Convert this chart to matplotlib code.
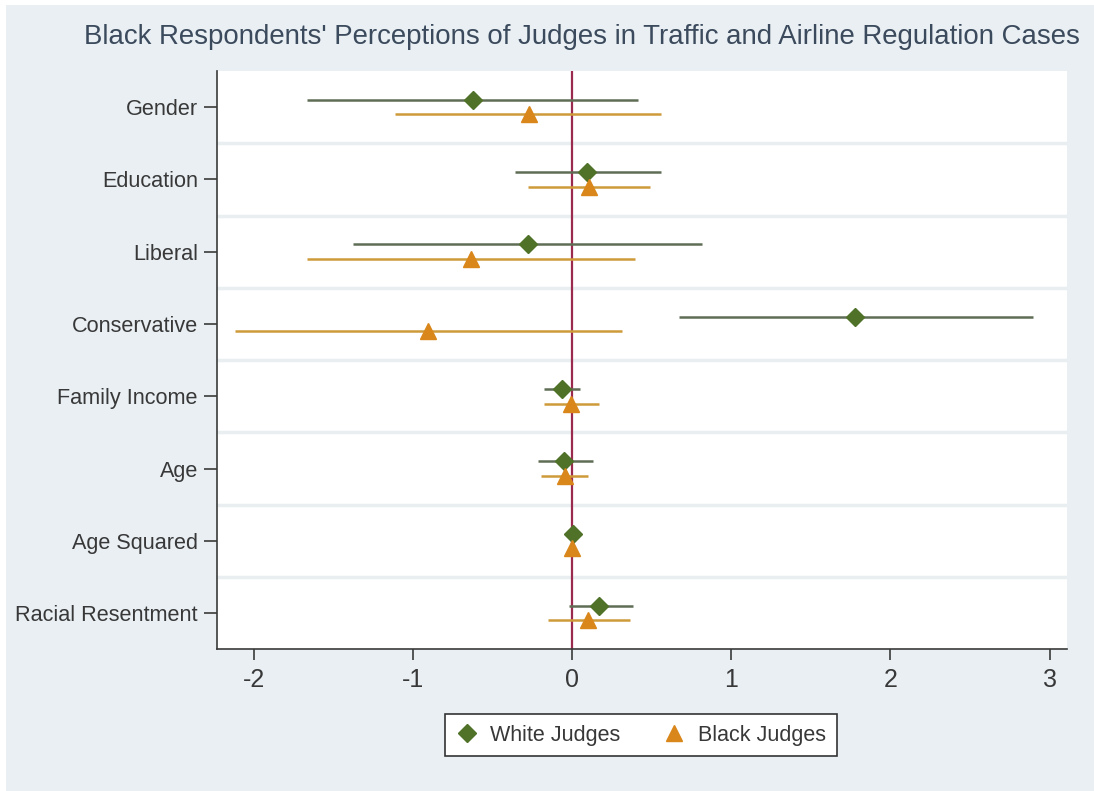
import matplotlib
matplotlib.use("Agg")
import matplotlib.pyplot as plt
from matplotlib.lines import Line2D
from matplotlib.patches import Rectangle

# ---- data ----
categories = ["Gender", "Education", "Liberal", "Conservative", "Family Income",
              "Age", "Age Squared", "Racial Resentment"]
white_est = [-0.624, 0.092, -0.281, 1.778, -0.064, -0.050, 0.002, 0.170]
white_lo = [-1.667, -0.358, -1.380, 0.668, -0.180, -0.217, -0.005, -0.020]
white_hi = [0.413, 0.559, 0.815, 2.894, 0.050, 0.130, 0.005, 0.380]
black_est = [-0.274, 0.103, -0.634, -0.906, -0.006, -0.044, 0.000, 0.100]
black_lo = [-1.112, -0.281, -1.667, -2.117, -0.180, -0.196, -0.005, -0.155]
black_hi = [0.559, 0.490, 0.396, 0.312, 0.170, 0.096, 0.005, 0.365]
xticks = [-2, -1, 0, 1, 2, 3]
title = "Black Respondents' Perceptions of Judges in Traffic and Airline Regulation Cases"
legend_labels = ["White Judges", "Black Judges"]

plt.rcParams['font.family'] = ['Liberation Sans', 'DejaVu Sans']

W, H = 1094, 791
fig = plt.figure(figsize=(W / 100, H / 100), dpi=100, facecolor='white')
fig.patches.append(Rectangle((6 / W, 0), 1 - 6 / W, 1 - 5 / H, transform=fig.transFigure,
                             facecolor='#e9eff3', edgecolor='none', zorder=-10))

ax = fig.add_axes([217 / W, 1 - 649.3 / H, (1067 - 217) / W, (649.3 - 71) / H])
ax.set_facecolor('white')

green_mk = '#4f7228'
green_ln = '#5f6d55'
orange_mk = '#d9861a'
orange_ln = '#cf9a3a'
ref_col = '#9b2a4f'

n = len(categories)
ys = list(range(n))
off = 0.1
yw = [y - off for y in ys]
yb = [y + off for y in ys]

for k in range(n - 1):
    ax.axhline(k + 0.5, color='#e9eef0', lw=2.5, zorder=0)

ax.axvline(0, color=ref_col, lw=1.6, zorder=1)

ax.hlines(yw, white_lo, white_hi, color=green_ln, lw=1.8, zorder=2)
ax.hlines(yb, black_lo, black_hi, color=orange_ln, lw=1.8, zorder=2)
ax.plot(white_est, yw, linestyle='none', marker='D', ms=9.5, color=green_mk, zorder=3)
ax.plot(black_est, yb, linestyle='none', marker='^', ms=11, color=orange_mk, zorder=3)

ax.set_xlim(-2.233, 3.110)
ax.set_ylim(n - 0.5, -0.5)
ax.set_yticks(ys)
ax.set_yticklabels(categories)
ax.set_xticks(xticks)
ax.set_xticklabels([str(t) for t in xticks])

for s in ['top', 'right']:
    ax.spines[s].set_visible(False)
for s in ['left', 'bottom']:
    ax.spines[s].set_color('#3a3a3a')
    ax.spines[s].set_linewidth(1.2)

ax.tick_params(axis='y', length=9.4, width=1.2, color='#3a3a3a', pad=4.3,
               labelsize=15.6, labelcolor='#383838')
ax.tick_params(axis='x', length=8, width=1.2, color='#3a3a3a', pad=5.5,
               labelsize=18, labelcolor='#383838')

fig.text(582 / W, 1 - 37 / H, title, ha='center', va='center', fontsize=19.9,
         color='#3b4a5c')

handles = [Line2D([], [], linestyle='none', marker='D', ms=9.5, color=green_mk),
           Line2D([], [], linestyle='none', marker='^', ms=11, color=orange_mk)]
leg = fig.legend(handles, legend_labels, loc='center', ncol=2,
                 bbox_to_anchor=(641 / W, 1 - 735 / H), fontsize=15.5,
                 frameon=True, fancybox=False, edgecolor='#333333', facecolor='white',
                 framealpha=1, handlelength=1.0, handletextpad=0.6, columnspacing=2.0,
                 borderpad=0.5)
leg.get_frame().set_linewidth(1.2)
for t in leg.get_texts():
    t.set_color('#383838')

fig.savefig('out.png', dpi=100, facecolor=fig.get_facecolor())
